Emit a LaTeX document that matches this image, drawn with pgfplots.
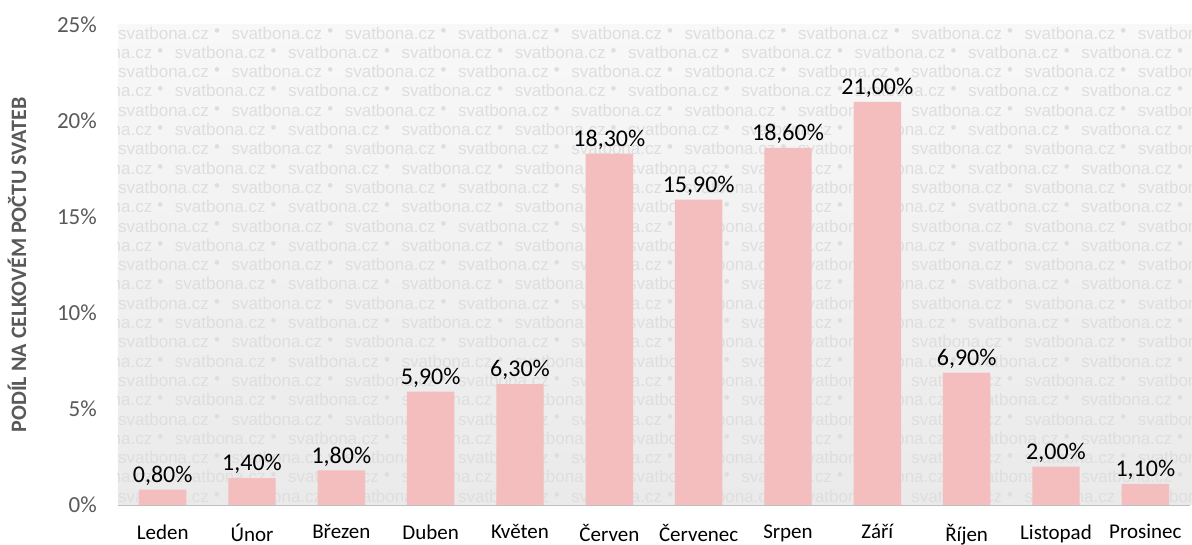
\documentclass[border=0pt]{standalone}
\usepackage{pgfplots}
\pgfplotsset{compat=1.18}
\usepackage{fontspec}
\setmainfont{Carlito}
\newfontfamily\wmfont{Liberation Sans}
\definecolor{barpink}{RGB}{244,190,190}
\definecolor{txtgray}{RGB}{89,89,89}
\definecolor{bgtop}{RGB}{248,248,248}
\definecolor{bgbot}{RGB}{234,234,234}
\definecolor{wm}{RGB}{222,222,222}
\pgfkeys{/pgf/number format/assume math mode=true}
\begin{document}
\fontsize{21}{25}\selectfont
\begin{tikzpicture}
\begin{scope}
\clip (0,0) rectangle (1074pt,480pt);
\shade[top color=bgtop,bottom color=bgbot] (0,0) rectangle (1074pt,480pt);
\foreach \r in {0,...,24}{
  \pgfmathsetmacro{\yy}{472-19.3*\r}
  \pgfmathsetmacro{\off}{-56.6*mod(\r,2)}
  \foreach \k in {0,...,10}{
    \node[anchor=west, inner sep=0, text=wm, font=\wmfont\fontsize{17}{17}\selectfont] at (\off pt+\k*113.3pt, \yy pt) {svatbona.cz};
    \node[inner sep=0, text=wm, font=\wmfont\fontsize{17}{17}\selectfont] at (\off pt+\k*113.3pt+99pt, \yy pt) {\textbullet};
  }
}
\end{scope}
\begin{axis}[
  at={(0,0)}, anchor=south west,
  scale only axis, width=1072pt, height=480pt,
  xmin=-0.5, xmax=11.5, ymin=0, ymax=25,
  axis x line*=bottom, axis y line*=left,
  y axis line style={draw=none},
  x axis line style={draw=gray!50, line width=0.8pt},
  ytick={0,5,...,25},
  yticklabel={\pgfmathprintnumber{\tick}\%},
  yticklabel style={text=txtgray, xshift=-14pt, font=\fontsize{23}{27}\selectfont},
  major y tick style={draw=none},
  xtick={0,...,11},
  xticklabels={Leden,Únor,Březen,Duben,Květen,Červen,Červenec,Srpen,Září,Říjen,Listopad,Prosinec},
  xticklabel style={text=black, yshift=-8pt, font=\fontsize{21}{25}\selectfont},
  major x tick style={draw=none},
  extra x ticks={-0.5,0.5,...,11.5},
  extra x tick labels={},
  extra x tick style={tick align=outside, major tick length=8pt, major tick style={draw=gray!50, line width=0.8pt}},
  ylabel={PODÍL NA CELKOVÉM POČTU SVATEB},
  ylabel style={font=\fontsize{22}{26}\selectfont\bfseries, text=txtgray, at={([xshift=-101pt]rel axis cs:0,0.5)}, anchor=center},
  ybar, bar width=0.53,
  nodes near coords={\pgfmathprintnumber[fixed,fixed zerofill,precision=2,use comma]{\pgfplotspointmeta}\%},
  every node near coord/.append style={text=black, font=\fontsize{24}{28}\selectfont, inner sep=4pt},
]
\addplot[fill=barpink, draw=none] coordinates {
(0,0.8) (1,1.4) (2,1.8) (3,5.9) (4,6.3) (5,18.3) (6,15.9) (7,18.6) (8,21.0) (9,6.9) (10,2.0) (11,1.1)
};
\end{axis}
\pgfresetboundingbox
\path[use as bounding box] (-118pt,-40pt) rectangle (1074pt,505pt);
\end{tikzpicture}
\end{document}
